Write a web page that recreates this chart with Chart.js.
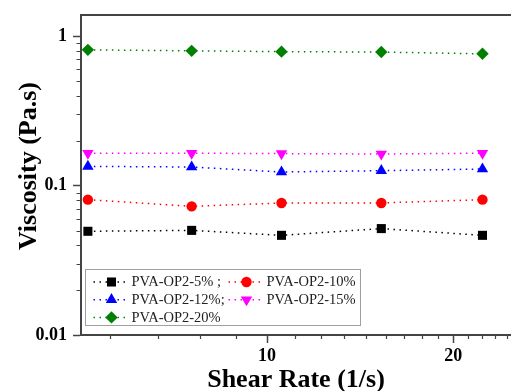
<!DOCTYPE html>
<html>
<head>
<meta charset="utf-8">
<script src="https://cdn.jsdelivr.net/npm/chart.js@4.4.1/dist/chart.umd.min.js"></script>
<style>
    html, body { margin: 0; padding: 0; background: #fff; }
    #wrap { width: 511px; height: 391px; }
</style>
</head>
<body>
<div id="wrap"><canvas id="viscosity-chart"></canvas></div>
<script>
// values
var shearRate = [5.13, 7.55, 10.55, 15.3, 22.3];
var visc5  = [0.0495, 0.0502, 0.0465, 0.0516, 0.0465];
var visc10 = [0.0806, 0.0727, 0.0766, 0.0766, 0.0806];
var visc12 = [0.1346, 0.1334, 0.1235, 0.126, 0.1293];
var visc15 = [0.165, 0.165, 0.164, 0.163, 0.165];
var visc20 = [0.812, 0.80, 0.79, 0.785, 0.764];

var seriesLabels = ['PVA-OP2-5% ;', 'PVA-OP2-10%', 'PVA-OP2-12%;', 'PVA-OP2-15%', 'PVA-OP2-20%'];

var xMajorTicks = [10, 20];
var xMinorTicks = [5.56, 6.67, 7.78, 8.89, 11.11, 12.22, 13.33, 14.44, 15.56, 16.67, 17.78, 18.89, 21.11, 22.22, 23.33, 24.44];
var yMajorTicks = [0.01, 0.1, 1];
var yMinorTicks = [0.02, 0.03, 0.04, 0.05, 0.06, 0.07, 0.08, 0.09, 0.2, 0.3, 0.4, 0.5, 0.6, 0.7, 0.8, 0.9];

var serif = "'Liberation Serif', 'Times New Roman', serif";
var axisColor = '#444';

function points(ys) {
    return shearRate.map(function (x, i) { return { x: x, y: ys[i] }; });
}

function series(label, ys, color, style, radius, rotation) {
    return {
        label: label,
        data: points(ys),
        borderColor: color,
        backgroundColor: color,
        borderWidth: 1.5,
        borderDash: [1.5, 4.5],
        pointStyle: style,
        pointRadius: radius,
        pointHoverRadius: radius,
        pointRotation: rotation || 0,
        pointBorderWidth: 0,
        tension: 0
    };
}

// frame top line, minor ticks, y title and the boxed legend
var extras = {
    id: 'extras',
    afterDraw: function (chart) {
        var ctx = chart.ctx;
        var area = chart.chartArea;
        var xs = chart.scales.x, ys = chart.scales.y;
        ctx.save();

        ctx.strokeStyle = axisColor;
        ctx.lineWidth = 2;
        ctx.beginPath();
        ctx.moveTo(area.left, area.top);
        ctx.lineTo(area.right, area.top);
        ctx.stroke();

        ctx.lineWidth = 1.2;
        ctx.beginPath();
        xMinorTicks.forEach(function (v) {
            var px = Math.round(xs.getPixelForValue(v)) + 0.5;
            ctx.moveTo(px, area.bottom);
            ctx.lineTo(px, area.bottom + 4);
        });
        yMinorTicks.forEach(function (v) {
            var py = Math.round(ys.getPixelForValue(v)) + 0.5;
            ctx.moveTo(area.left - 4.5, py);
            ctx.lineTo(area.left, py);
        });
        ctx.stroke();

        // y axis title
        ctx.save();
        ctx.translate(29, 166);
        ctx.rotate(-Math.PI / 2);
        ctx.fillStyle = '#000';
        ctx.font = 'bold 26px ' + serif;
        ctx.textAlign = 'center';
        ctx.textBaseline = 'middle';
        ctx.fillText('Viscosity (Pa.s)', 0, 0);
        ctx.restore();

        // legend
        var boxL = area.left + 4.5, boxT = area.bottom - 65.5, boxW = 275, boxH = 56;
        ctx.fillStyle = '#fff';
        ctx.fillRect(boxL, boxT, boxW, boxH);
        ctx.strokeStyle = '#a0a0a0';
        ctx.lineWidth = 1;
        ctx.strokeRect(boxL, boxT, boxW, boxH);

        chart.data.datasets.forEach(function (ds, i) {
            var col = i % 2, row = Math.floor(i / 2);
            var x0 = boxL + 8 + col * 135;
            var y0 = boxT + 12.5 + row * 17.7;
            ctx.strokeStyle = ds.borderColor;
            ctx.lineWidth = 1.5;
            ctx.setLineDash([1.5, 4.5]);
            ctx.beginPath();
            ctx.moveTo(x0, y0);
            ctx.lineTo(x0 + 35, y0);
            ctx.stroke();
            ctx.setLineDash([]);
            ctx.fillStyle = ds.backgroundColor;
            Chart.helpers.drawPoint(ctx, {
                pointStyle: ds.pointStyle,
                radius: ds.pointRadius,
                rotation: ds.pointRotation,
                borderWidth: 0
            }, x0 + 18, y0);
            ctx.fillStyle = '#222';
            ctx.font = '14.5px ' + serif;
            ctx.textAlign = 'left';
            ctx.textBaseline = 'middle';
            ctx.fillText(ds.label, x0 + 38, y0 + 0.5);
        });

        ctx.restore();
    }
};

document.addEventListener('DOMContentLoaded', function () {
    var ctx = document.getElementById('viscosity-chart').getContext('2d');
    new Chart(ctx, {
        type: 'line',
        data: {
            datasets: [
                series(seriesLabels[0], visc5, '#000000', 'rect', 6.4),
                series(seriesLabels[1], visc10, '#ff0000', 'circle', 5.2),
                series(seriesLabels[2], visc12, '#0000ff', 'triangle', 6.6),
                series(seriesLabels[3], visc15, '#ff00ff', 'triangle', 6.6, 180),
                series(seriesLabels[4], visc20, '#008000', 'rectRot', 6.2)
            ]
        },
        options: {
            responsive: true,
            maintainAspectRatio: false,
            animation: false,
            layout: { autoPadding: false, padding: { top: 15, right: 0, left: 0, bottom: 0 } },
            plugins: {
                legend: { display: false },
                tooltip: { enabled: false }
            },
            scales: {
                x: {
                    type: 'logarithmic',
                    min: 5,
                    max: 24.8,
                    afterBuildTicks: function (scale) {
                        scale.ticks = xMajorTicks.map(function (v) { return { value: v }; });
                    },
                    afterFit: function (scale) {
                        scale.height = 56;
                        scale.paddingLeft = 0;
                        scale.paddingRight = 0;
                    },
                    ticks: {
                        callback: function (v) { return String(v); },
                        color: '#000',
                        font: { family: serif, size: 18, weight: 'bold' },
                        padding: 3,
                        maxRotation: 0
                    },
                    grid: {
                        drawOnChartArea: false,
                        drawTicks: true,
                        tickLength: 8,
                        tickColor: axisColor,
                        tickWidth: 1.5
                    },
                    border: { display: true, color: axisColor, width: 2 },
                    title: {
                        display: true,
                        text: 'Shear Rate (1/s)',
                        color: '#000',
                        font: { family: serif, size: 26, weight: 'bold', lineHeight: 0.85 },
                        padding: { top: 0, bottom: 0 }
                    }
                },
                y: {
                    type: 'logarithmic',
                    min: 0.01,
                    max: 1.39,
                    afterBuildTicks: function (scale) {
                        scale.ticks = yMajorTicks.map(function (v) { return { value: v }; });
                    },
                    afterFit: function (scale) {
                        scale.width = 81;
                        scale.paddingTop = 0;
                        scale.paddingBottom = 0;
                    },
                    ticks: {
                        callback: function (v) { return String(v); },
                        color: '#000',
                        font: { family: serif, size: 18, weight: 'bold' },
                        padding: 6
                    },
                    grid: {
                        drawOnChartArea: false,
                        drawTicks: true,
                        tickLength: 8,
                        tickColor: axisColor,
                        tickWidth: 1.5
                    },
                    border: { display: true, color: axisColor, width: 2 }
                }
            }
        },
        plugins: [extras]
    });
});
</script>
</body>
</html>
